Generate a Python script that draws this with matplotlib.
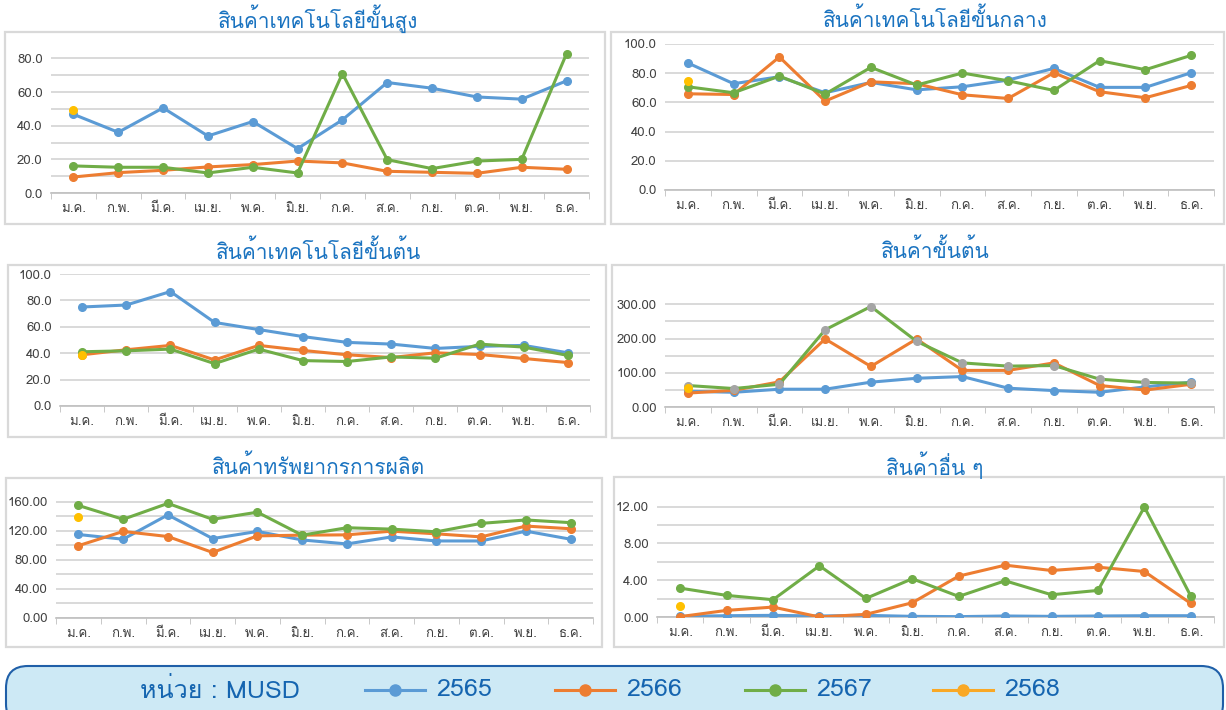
import matplotlib
matplotlib.use("Agg")
import matplotlib.pyplot as plt
from matplotlib import font_manager, ft2font
from matplotlib.patches import Rectangle, FancyBboxPatch
from matplotlib.lines import Line2D
from matplotlib.ticker import MultipleLocator, FormatStrFormatter

months = ["ม.ค.", "ก.พ.", "มี.ค.", "เม.ย.", "พ.ค.", "มิ.ย.",
          "ก.ค.", "ส.ค.", "ก.ย.", "ต.ค.", "พ.ย.", "ธ.ค."]
years = ["2565", "2566", "2567", "2568"]
colors = ["#5b9bd5", "#ed7d31", "#70ad47", "#ffc000"]
legend_colors = ["#5b9bd5", "#ed7d31", "#70ad47", "#f9a825"]

titles = ["สินค้าเทคโนโลยีขั้นสูง", "สินค้าเทคโนโลยีขั้นกลาง",
          "สินค้าเทคโนโลยีขั้นต้น", "สินค้าขั้นต้น",
          "สินค้าทรัพยากรการผลิต", "สินค้าอื่น ๆ"]

# high tech
high_2565 = [46.8, 36.1, 50.6, 33.9, 42.5, 26.4, 43.5, 65.7, 62.3, 57.1, 55.8, 66.7]
high_2566 = [9.5, 12.1, 13.5, 15.5, 16.9, 19.0, 17.9, 12.9, 12.3, 11.7, 15.3, 14.1]
high_2567 = [16.1, 15.3, 15.3, 11.9, 15.3, 11.9, 71.0, 19.8, 14.5, 19.0, 20.0, 82.9]
high_2568 = [49.4]

# medium tech
mid_2565 = [87.0, 72.8, 77.6, 66.6, 73.7, 68.6, 70.7, 75.3, 83.3, 70.3, 70.3, 80.3]
mid_2566 = [65.9, 65.4, 91.1, 60.9, 74.1, 72.8, 65.2, 62.7, 80.3, 67.3, 63.2, 71.6]
mid_2567 = [70.7, 66.6, 78.0, 65.7, 84.0, 71.9, 80.1, 74.8, 68.2, 88.6, 82.4, 92.2]
mid_2568 = [74.4]

# low tech
low_2565 = [75.0, 76.5, 86.7, 63.3, 57.9, 52.6, 48.2, 46.9, 43.6, 45.2, 45.9, 40.3]
low_2566 = [38.8, 42.6, 45.9, 34.9, 45.9, 42.1, 38.8, 36.7, 40.3, 39.0, 36.0, 32.9]
low_2567 = [41.1, 41.8, 43.1, 32.1, 43.1, 34.4, 33.7, 37.2, 36.2, 46.9, 44.6, 38.3]
low_2568 = [38.3]

# primary goods
prim_2565 = [46.0, 43.0, 52.0, 52.0, 72.6, 84.0, 89.0, 55.0, 48.0, 43.0, 59.0, 72.6]
prim_2566 = [40.7, 48.7, 73.5, 199.0, 118.6, 199.0, 107.0, 107.0, 129.0, 62.8, 49.6, 66.4]
prim_2567 = [62.8, 54.0, 66.4, 225.7, 293.8, 192.0, 129.0, 119.5, 121.2, 81.4, 71.7, 69.9]
prim_2568 = [55.8]

# resource-based
res_2565 = [114.9, 108.4, 141.9, 109.3, 119.1, 107.4, 101.9, 111.6, 106.0, 106.0, 119.5, 108.4]
res_2566 = [99.5, 119.1, 112.1, 90.2, 113.0, 114.0, 114.4, 119.5, 115.8, 111.6, 126.5, 122.8]
res_2567 = [154.9, 135.8, 157.7, 135.8, 145.6, 114.0, 124.2, 122.3, 118.6, 130.2, 134.9, 131.2]
res_2568 = [138.6]

# others
oth_2565 = [0.07, 0.14, 0.18, 0.11, 0.18, 0.07, 0.04, 0.11, 0.07, 0.11, 0.14, 0.14]
oth_2566 = [0.04, 0.72, 1.08, 0.0, 0.29, 1.55, 4.45, 5.64, 5.06, 5.42, 4.95, 1.48]
oth_2567 = [3.14, 2.35, 1.88, 5.57, 2.02, 4.16, 2.24, 3.94, 2.42, 2.89, 11.96, 2.28]
oth_2568 = [1.23]

series = [
    [high_2565, high_2566, high_2567, high_2568],
    [mid_2565, mid_2566, mid_2567, mid_2568],
    [low_2565, low_2566, low_2567, low_2568],
    [prim_2565, prim_2566, prim_2567, prim_2568],
    [res_2565, res_2566, res_2567, res_2568],
    [oth_2565, oth_2566, oth_2567, oth_2568],
]


def thai_family():
    for f in font_manager.fontManager.ttflist:
        try:
            cmap = ft2font.FT2Font(f.fname).get_charmap()
        except Exception:
            continue
        if 0x0E2A in cmap and 0x0E34 in cmap:
            return f.name
    return "DejaVu Sans"


FONT = [thai_family(), "DejaVu Sans"]
plt.rcParams["font.family"] = FONT

W, H = 1226, 710
fig = plt.figure(figsize=(W / 100, H / 100), dpi=100)

# full-figure overlay in pixel coordinates for frames, titles and legend bar
bg = fig.add_axes([0, 0, 1, 1])
bg.set_xlim(0, W)
bg.set_ylim(H, 0)
bg.axis("off")

# (frame box, plot box, title centre, ylim top, major, minor, fmt)
layout = [
    ((5, 32, 605, 224), (51, 45, 589, 193), (318, 19), 88, 20, 10, "%.1f"),
    ((611, 32, 1224, 224), (665, 44, 1214, 190), (935, 19), 100, 20, None, "%.1f"),
    ((8, 265, 606, 437), (60, 274, 590, 406), (318, 251), 100, 20, None, "%.1f"),
    ((612, 265, 1224, 438), (665, 289, 1214, 407), (935, 250), 345, 100, 50, "%.2f"),
    ((6, 478, 602, 647), (56, 493, 593, 618), (318, 466), 172, 40, 20, "%.2f"),
    ((614, 477, 1224, 647), (657, 492, 1214, 617), (935, 465), 13.6, 4, 2, "%.2f"),
]

x = list(range(12))
for i, (frame, box, tpos, ytop, major, minor, fmt) in enumerate(layout):
    fx0, fy0, fx1, fy1 = frame
    bg.add_patch(Rectangle((fx0, fy0), fx1 - fx0, fy1 - fy0, fill=False,
                           edgecolor="#d9d9d9", lw=1.6))
    bg.text(tpos[0], tpos[1], titles[i], ha="center", va="center",
            fontsize=15, color="#1a73c0")

    x0, y0, x1, y1 = box
    ax = fig.add_axes([x0 / W, 1 - y1 / H, (x1 - x0) / W, (y1 - y0) / H])
    ax.patch.set_alpha(0)

    for k, vals in enumerate(series[i]):
        mfc = colors[k]
        if i == 3 and k == 2:
            mfc = "#a5a5a5"
        ax.plot(x[:len(vals)], vals, color=colors[k], lw=2.2, marker="o",
                markersize=5.5, markerfacecolor=mfc, markeredgecolor=mfc,
                zorder=3 + k)

    ax.set_xlim(-0.5, 11.5)
    ax.set_ylim(0, ytop)
    ax.set_xticks(x)
    ax.set_xticklabels(months)
    ax.set_xticks([v - 0.5 for v in range(13)], minor=True)
    ax.tick_params(axis="x", which="major", length=0, pad=7,
                   labelsize=9.5, labelcolor="#404040")
    ax.tick_params(axis="x", which="minor", length=4, color="#bfbfbf")
    ax.yaxis.set_major_locator(MultipleLocator(major))
    ax.yaxis.set_major_formatter(FormatStrFormatter(fmt))
    if minor:
        ax.yaxis.set_minor_locator(MultipleLocator(minor))
    ax.tick_params(axis="y", which="both", length=0, pad=6,
                   labelsize=9.5, labelcolor="#404040")
    ax.grid(axis="y", which="both", color="#d9d9d9", lw=1.4, zorder=0)
    ax.set_axisbelow(True)
    for side in ["top", "right", "left"]:
        ax.spines[side].set_visible(False)
    ax.spines["bottom"].set_color("#bfbfbf")
    ax.spines["bottom"].set_linewidth(1.2)

# legend bar
bg.add_patch(FancyBboxPatch((6, 666), 1217, 60,
                            boxstyle="round,pad=0,rounding_size=22",
                            facecolor="#cde9f5", edgecolor="#1f5fa8", lw=1.5,
                            clip_on=False))
bg.text(220, 690, "หน่วย : MUSD", ha="center", va="center",
        fontsize=18, color="#1565b0")
item_x = [365, 555, 745, 933]
for k, yr in enumerate(years):
    lx = item_x[k]
    bg.add_line(Line2D([lx, lx + 60], [690, 690], color=legend_colors[k], lw=2.2))
    bg.add_line(Line2D([lx + 30], [690], color=legend_colors[k], marker="o",
                       markersize=8))
    bg.text(lx + 71, 690, yr, ha="left", va="center", fontsize=18,
            color="#1565b0")

fig.savefig("out.png", dpi=100)
